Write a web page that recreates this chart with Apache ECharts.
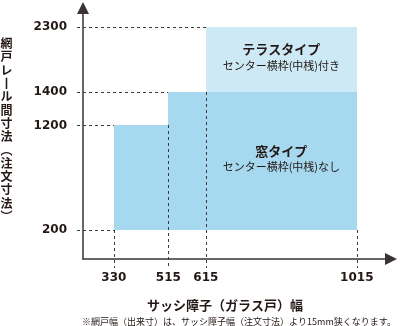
<!DOCTYPE html>
<html>
<head>
<meta charset="utf-8">
<script src="https://cdn.jsdelivr.net/npm/echarts@6/dist/echarts.min.js"></script>
<style>
html,body{margin:0;padding:0;background:#fff;}
#chart{width:400px;height:326px;}
</style>
</head>
<body>
<div id="chart"></div>
<script>
// 区切りの寸法
var widthSteps = [330, 515, 615, 1015];     // サッシ障子（ガラス戸）幅
var heightSteps = [200, 1200, 1400, 2300];  // 網戸レール間寸法

// 窓タイプ  [幅from, 幅to, 高さfrom, 高さto]
var madoRanges = [[330, 515, 200, 1200], [515, 1015, 200, 1400]];
// テラスタイプ
var terasuRanges = [[615, 1015, 1400, 2300]];

// 点線  [高さ, ここまで]  /  [幅, ここから下]
var heightGuides = [[200, 330], [1200, 330], [1400, 515], [2300, 615]];
var widthGuides = [[330, 200], [515, 1200], [615, 1400], [1015, 200]];

var typeNames = ['窓タイプ', 'テラスタイプ'];
var typeNotes = ['センター横枠(中桟)なし', 'センター横枠(中桟)付き'];
var typeBoxes = [[615, 1015, 200, 1400], [615, 1015, 1400, 2300]];

// 目盛りは等間隔ではない（図の上での位置, 0-100）
var widthPos = [10, 27.7, 39.9, 88.9];
var heightPos = [11.7, 53.2, 66.5, 92.5];
function px(v) { return widthPos[widthSteps.indexOf(v)]; }
function py(v) { return heightPos[heightSteps.indexOf(v)]; }

var ink = '#231815';
var jp = '"Noto Sans CJK JP", sans-serif';

var myChart = echarts.init(document.getElementById('chart'));

function rectItem(params, api) {
    var a = api.coord([api.value(0), api.value(3)]);
    var b = api.coord([api.value(1), api.value(2)]);
    var x0 = Math.round(a[0]), y0 = Math.round(a[1]);
    return {
        type: 'rect',
        shape: {x: x0, y: y0, width: Math.round(b[0]) - x0, height: Math.round(b[1]) - y0},
        style: {fill: api.visual('color')}
    };
}
function toRect(r) { return [px(r[0]), px(r[1]), py(r[2]), py(r[3])]; }

var dash = {stroke: '#3e3a39', lineWidth: 1, lineDash: [3, 3]};

option = {
    animation: false,
    grid: {left: 83, right: 9, top: 8, bottom: 67, containLabel: false, outerBoundsMode: 'none'},
    xAxis: {
        type: 'value', min: 0, max: 100,
        axisLine: {lineStyle: {color: '#3a3333', width: 1.5}, symbol: ['none', 'triangle'], symbolSize: [12, 12]},
        axisTick: {show: false},
        splitLine: {show: false},
        axisLabel: {
            customValues: widthSteps.map(px), margin: 13,
            color: ink, fontFamily: 'DejaVu Sans', fontWeight: 'bold', fontSize: 12,
            formatter: function (v) { return widthSteps[widthPos.indexOf(v)]; }
        }
    },
    yAxis: {
        type: 'value', min: 0, max: 100,
        axisLine: {lineStyle: {color: '#3a3333', width: 1.5}, symbol: ['none', 'triangle'], symbolSize: [12, 12]},
        axisTick: {show: false},
        splitLine: {show: false},
        axisLabel: {
            customValues: heightSteps.map(py), margin: 16,
            color: ink, fontFamily: 'DejaVu Sans', fontWeight: 'bold', fontSize: 12,
            formatter: function (v) { return heightSteps[heightPos.indexOf(v)]; }
        }
    },
    graphic: [
        {type: 'text', x: 225, y: 305, style: {text: 'サッシ障子（ガラス戸）幅', align: 'center', verticalAlign: 'middle',
            fill: ink, font: 'bold 13px ' + jp}},
        {type: 'text', x: 239, y: 321.5, style: {text: '※網戸幅（出来寸）は、サッシ障子幅（注文寸法）より15mm狭くなります。',
            align: 'center', verticalAlign: 'middle', fill: ink, font: '9px ' + jp}},
        {type: 'text', x: 6.5, y: 130, style: {text: '網戸レ丨ル間寸法︵注文寸法︶'.split('').join('\n'),
            align: 'center', verticalAlign: 'middle', lineHeight: 13.3, fill: ink, font: 'bold 12px ' + jp}}
    ],
    series: [
        {
            name: '窓タイプ', type: 'custom', renderItem: rectItem,
            itemStyle: {color: '#a6d9ef'},
            data: madoRanges.map(toRect), z: 1
        },
        {
            name: 'テラスタイプ', type: 'custom', renderItem: rectItem,
            itemStyle: {color: '#cde9f5'},
            data: terasuRanges.map(toRect), z: 1
        },
        {
            type: 'custom', z: 3, silent: true,
            data: heightGuides.map(function (g) { return [py(g[0]), px(g[1])]; }),
            renderItem: function (params, api) {
                var a = api.coord([0, api.value(0)]);
                var b = api.coord([api.value(1), api.value(0)]);
                var y = Math.round(a[1]) + 0.5;
                return {type: 'line', shape: {x1: a[0] - 6, y1: y, x2: Math.round(b[0]), y2: y}, style: dash};
            }
        },
        {
            type: 'custom', z: 3, silent: true,
            data: widthGuides.map(function (g) { return [px(g[0]), py(g[1])]; }),
            renderItem: function (params, api) {
                var a = api.coord([api.value(0), api.value(1)]);
                var b = api.coord([api.value(0), 0]);
                var x = Math.round(a[0]) + 0.5;
                return {type: 'line', shape: {x1: x, y1: Math.round(a[1]), x2: x, y2: b[1] + 9}, style: dash};
            }
        },
        {
            type: 'custom', z: 4, silent: true,
            data: typeBoxes.map(function (r, i) { return [(px(r[0]) + px(r[1])) / 2, (py(r[2]) + py(r[3])) / 2, i]; }),
            renderItem: function (params, api) {
                var c = api.coord([api.value(0), api.value(1)]);
                var i = api.value(2);
                return {
                    type: 'group',
                    children: [
                        {type: 'text', style: {text: typeNames[i], x: c[0], y: c[1] - 10, align: 'center', verticalAlign: 'middle',
                            fill: ink, font: 'bold 13px ' + jp}},
                        {type: 'text', style: {text: typeNotes[i], x: c[0], y: c[1] + 6, align: 'center', verticalAlign: 'middle',
                            fill: ink, font: '11px ' + jp}}
                    ]
                };
            }
        }
    ]
};
myChart.setOption(option, true);
</script>
</body>
</html>
